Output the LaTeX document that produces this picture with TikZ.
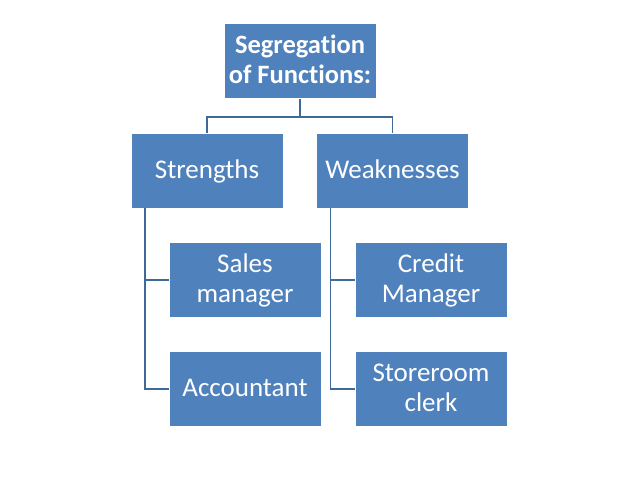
\documentclass[tikz,border=0pt]{standalone}
\usepackage{fontspec}
\setmainfont[Ligatures={NoCommon}]{Carlito}
\definecolor{boxblue}{HTML}{4F81BD}
\definecolor{linkblue}{HTML}{3F6A98}
\newcommand{\ls}{\rule[-7.5pt]{0pt}{30pt}}
\begin{document}
\begin{tikzpicture}[x=1pt,y=-1pt,
  box/.style={fill=boxblue,draw=white,line width=0.8pt,text=white,minimum width=152pt,minimum height=75pt,align=center,inner sep=0pt,font=\fontsize{27}{30}\selectfont},
  link/.style={draw=linkblue,line width=1.8pt}]
\useasboundingbox[fill=white] (0,0) rectangle (638,479);
\node[box,font=\fontsize{26.5}{30}\selectfont\bfseries] (top) at (300,61) {\ls Segregation\\\ls of Functions:};
\node[box] (str) at (207,170.5) {\ls Strengths};
\node[box] (weak) at (392.5,170.5) {\ls Weaknesses};
\node[box] (sales) at (245,280) {\ls Sales\\\ls manager};
\node[box] (acc) at (245,389) {\ls Accountant};
\node[box] (cred) at (431,280) {\ls Credit\\\ls Manager};
\node[box] (store) at (431,389) {\ls Storeroom\\\ls clerk};
\coordinate (mid) at (300,117);
\draw[link] (top.south) -- (mid) -| (str.north);
\draw[link] (mid) -| (weak.north);
\draw[link] ([xshift=-62pt]str.south) |- (sales.west);
\draw[link] ([xshift=-62pt]str.south) |- (acc.west);
\draw[link] ([xshift=-62pt]weak.south) |- (cred.west);
\draw[link] ([xshift=-62pt]weak.south) |- (store.west);
\end{tikzpicture}
\end{document}
